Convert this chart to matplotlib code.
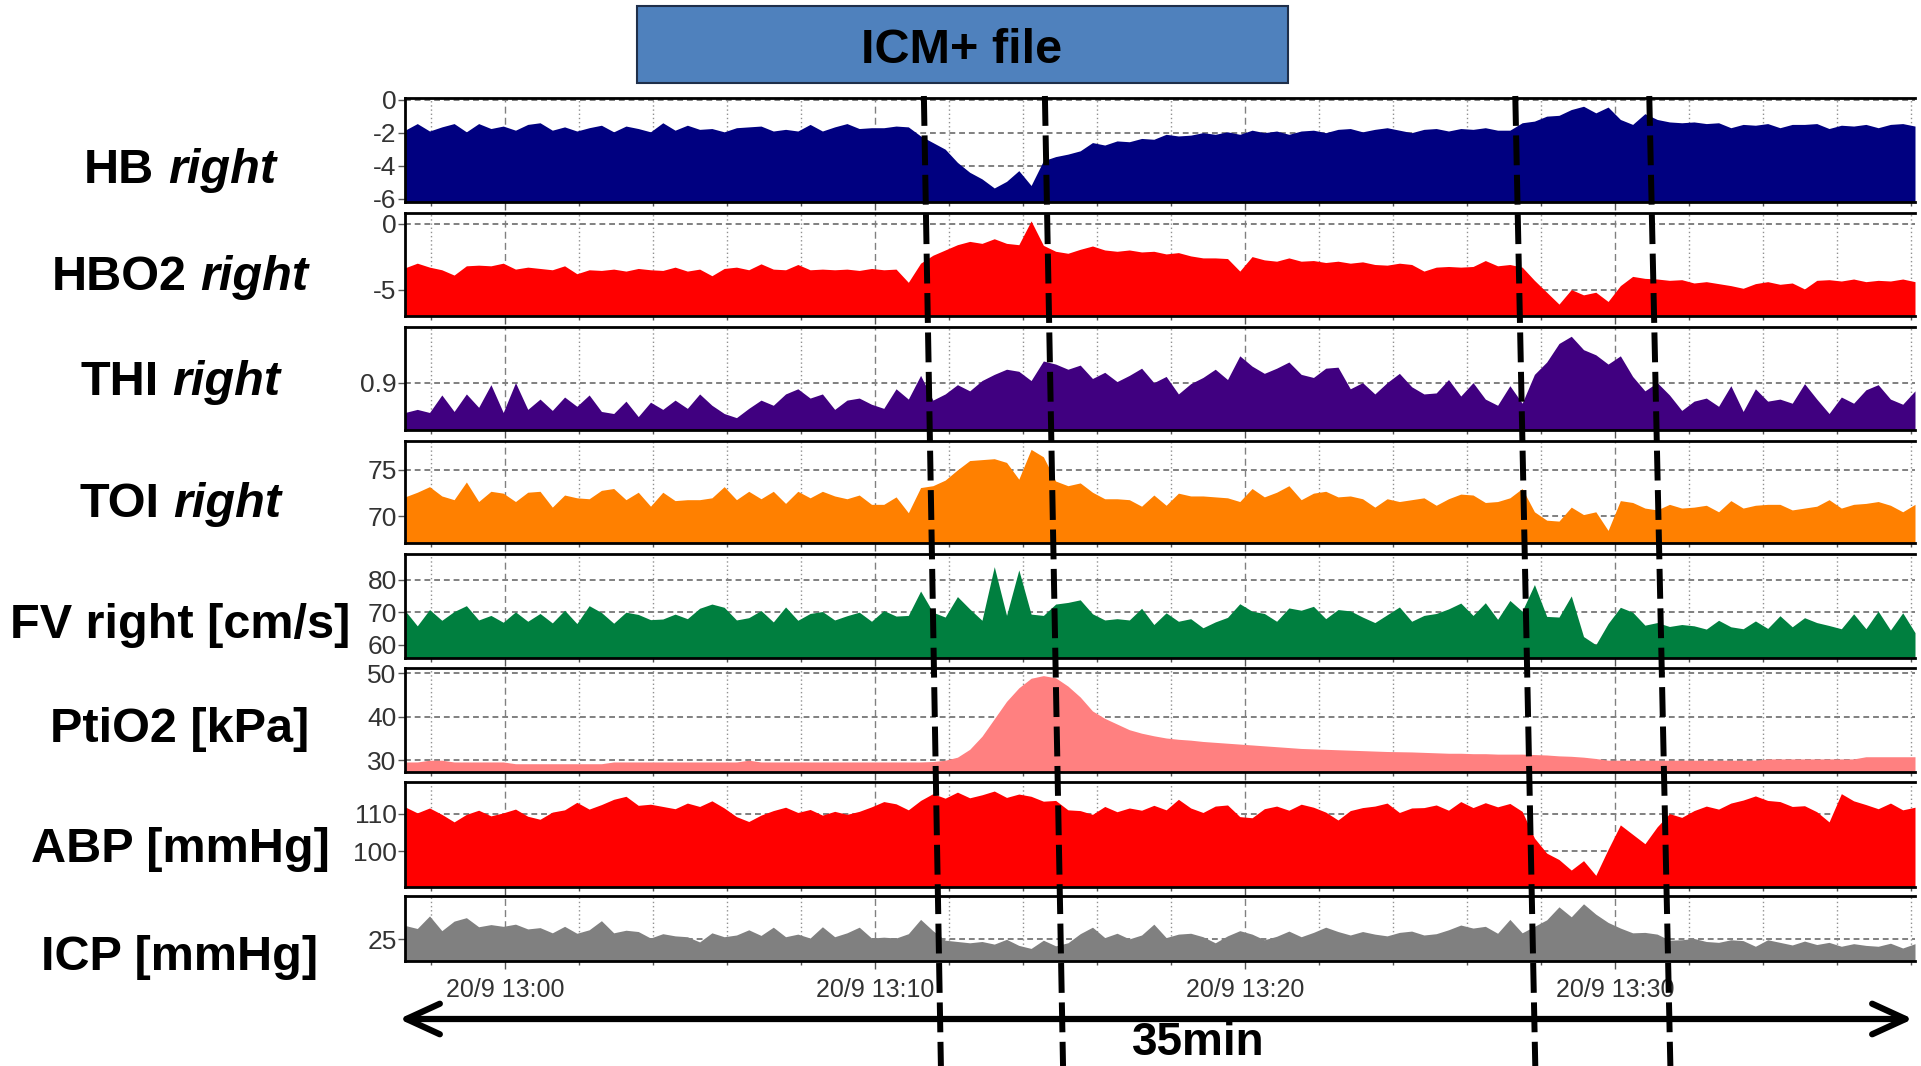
import numpy as np
import matplotlib
matplotlib.use("Agg")
import matplotlib.pyplot as plt
from matplotlib.patches import Rectangle
from matplotlib.ticker import FixedLocator, MultipleLocator

plt.rcParams['font.family'] = ['Liberation Sans', 'DejaVu Sans']

W, H, DPI = 1921, 1066, 100

hb = [-1.85, -1.45, -1.9, -1.65, -1.45, -1.95, -1.45, -1.75, -1.6, -1.85,
      -1.5, -1.4, -1.85, -1.65, -1.9, -1.7, -1.55, -1.95, -1.6, -1.75,
      -1.95, -1.4, -1.85, -1.55, -1.8, -1.75, -1.95, -1.7, -1.65, -1.6,
      -1.9, -1.8, -1.9, -1.5, -1.9, -1.65, -1.45, -1.75, -1.7, -1.7,
      -1.6, -1.65, -2.2, -2.6, -3.0, -3.8, -4.4, -4.8, -5.35, -4.95,
      -4.3, -5.2, -3.7, -3.45, -3.3, -3.1, -2.6, -2.75, -2.5, -2.55,
      -2.35, -2.4, -2.1, -2.2, -2.15, -2.0, -2.1, -1.95, -2.1, -1.85,
      -2.0, -1.9, -2.1, -1.9, -1.85, -2.0, -1.8, -1.75, -1.95, -1.8,
      -1.7, -1.85, -2.0, -1.8, -1.75, -1.9, -1.75, -1.8, -1.7, -1.85,
      -1.85, -1.4, -1.3, -1.0, -0.95, -0.6, -0.4, -0.8, -0.45, -1.2,
      -1.5, -0.85, -1.2, -1.35, -1.4, -1.35, -1.45, -1.4, -1.7, -1.5,
      -1.55, -1.45, -1.7, -1.5, -1.5, -1.45, -1.75, -1.55, -1.6, -1.5,
      -1.7, -1.5, -1.45, -1.6]

hbo2 = [-3.35, -3.0, -3.3, -3.5, -3.9, -3.2, -3.15, -3.2, -3.0, -3.45,
        -3.3, -3.4, -3.5, -3.2, -3.8, -3.5, -3.55, -3.45, -3.6, -3.4,
        -3.5, -3.55, -3.3, -3.6, -3.45, -3.95, -3.4, -3.3, -3.5, -3.05,
        -3.45, -3.5, -3.1, -3.5, -3.45, -3.5, -3.45, -3.55, -3.4, -3.5,
        -3.45, -4.45, -3.0, -2.4, -2.0, -1.6, -1.35, -1.5, -1.15, -1.5,
        -1.6, 0.2, -1.65, -2.1, -2.25, -1.95, -1.7, -2.0, -2.1, -2.0,
        -2.15, -2.1, -2.3, -2.2, -2.45, -2.6, -2.6, -2.65, -3.6, -2.5,
        -2.75, -2.85, -2.6, -2.85, -2.8, -2.95, -2.85, -3.0, -2.9, -3.1,
        -3.15, -3.0, -3.1, -3.6, -3.3, -3.25, -3.3, -3.25, -2.8, -3.2,
        -3.1, -3.3, -4.3, -5.2, -6.1, -5.0, -5.4, -5.2, -5.9, -4.7,
        -4.0, -4.15, -4.2, -4.3, -4.25, -4.5, -4.4, -4.55, -4.7, -4.9,
        -4.55, -4.4, -4.6, -4.5, -4.95, -4.3, -4.25, -4.35, -4.2, -4.4,
        -4.3, -4.35, -4.2, -4.4]

thi = [0.871, 0.874, 0.871, 0.888, 0.872, 0.889, 0.876, 0.898, 0.871, 0.900,
       0.874, 0.884, 0.873, 0.886, 0.877, 0.888, 0.872, 0.870, 0.882, 0.867,
       0.881, 0.874, 0.883, 0.875, 0.889, 0.878, 0.870, 0.866, 0.875, 0.883,
       0.878, 0.889, 0.894, 0.885, 0.889, 0.874, 0.883, 0.885, 0.879, 0.875,
       0.894, 0.884, 0.907, 0.883, 0.889, 0.898, 0.892, 0.902, 0.908, 0.913,
       0.911, 0.902, 0.921, 0.918, 0.913, 0.917, 0.904, 0.910, 0.901, 0.907,
       0.914, 0.900, 0.906, 0.889, 0.899, 0.905, 0.913, 0.903, 0.926, 0.916,
       0.909, 0.914, 0.920, 0.908, 0.905, 0.914, 0.915, 0.894, 0.900, 0.889,
       0.900, 0.909, 0.896, 0.889, 0.890, 0.903, 0.887, 0.900, 0.884, 0.878,
       0.897, 0.880, 0.908, 0.920, 0.938, 0.945, 0.932, 0.927, 0.918, 0.926,
       0.906, 0.892, 0.900, 0.888, 0.873, 0.882, 0.885, 0.877, 0.897, 0.872,
       0.894, 0.882, 0.884, 0.880, 0.899, 0.884, 0.870, 0.886, 0.880, 0.893,
       0.898, 0.884, 0.879, 0.892]

toi = [72.1, 72.6, 73.2, 72.2, 71.8, 73.7, 71.6, 72.7, 72.5, 71.6,
       72.6, 72.7, 71.0, 72.3, 72.0, 71.9, 72.8, 73.0, 71.8, 72.6,
       71.1, 72.6, 71.7, 71.8, 71.8, 72.0, 73.2, 71.8, 72.7, 71.9,
       72.7, 71.4, 72.7, 72.0, 72.7, 72.2, 71.9, 72.3, 71.3, 71.3,
       72.1, 70.4, 73.1, 73.3, 73.9, 75.0, 76.0, 76.1, 76.2, 75.8,
       74.0, 77.2, 76.4, 73.8, 73.3, 73.6, 72.6, 71.9, 71.9, 71.8,
       71.1, 72.3, 71.2, 72.5, 72.2, 72.2, 72.1, 72.0, 71.6, 73.0,
       72.1, 72.6, 73.3, 71.8, 72.5, 72.7, 72.1, 72.2, 71.9, 71.0,
       71.9, 71.6, 71.8, 72.0, 71.2, 71.9, 72.4, 72.3, 71.5, 71.6,
       72.0, 73.0, 70.5, 69.6, 69.5, 71.0, 70.2, 70.5, 68.5, 71.7,
       71.5, 70.9, 70.7, 71.3, 70.9, 71.0, 71.2, 70.5, 71.7, 70.9,
       71.2, 71.3, 71.3, 70.7, 70.9, 71.1, 71.8, 70.9, 71.3, 71.4,
       71.6, 71.2, 70.5, 71.3]

fv = [70.5, 65.8, 70.8, 67.5, 70.2, 72.0, 67.6, 69.0, 66.9, 70.1,
      67.2, 69.6, 66.7, 70.6, 66.5, 72.0, 69.9, 66.6, 70.0, 69.3,
      67.7, 67.9, 69.4, 68.0, 71.2, 72.5, 71.5, 67.6, 68.3, 70.5,
      67.0, 71.6, 67.5, 69.6, 70.2, 67.6, 68.9, 70.0, 67.2, 70.5,
      68.8, 69.0, 76.5, 70.0, 68.5, 74.8, 71.0, 67.5, 84.0, 69.0,
      83.0, 69.4, 69.0, 72.5, 73.0, 73.8, 69.5, 67.6, 68.0, 67.6,
      71.2, 66.2, 69.8, 67.2, 68.0, 65.2, 67.0, 68.4, 72.6, 70.3,
      69.6, 67.2, 71.3, 70.6, 71.8, 68.0, 70.8, 70.4, 68.5, 66.8,
      69.2, 71.6, 67.2, 69.0, 69.6, 71.0, 72.8, 69.0, 72.9, 67.8,
      73.6, 70.3, 78.5, 68.7, 68.5, 75.0, 62.5, 60.0, 66.5, 71.5,
      70.0, 66.0, 66.8, 65.6, 66.2, 65.8, 64.8, 67.5, 65.5, 64.9,
      67.3, 65.0, 68.9, 65.5, 68.3, 66.8, 65.9, 64.9, 69.5, 64.9,
      70.3, 64.5, 69.8, 63.7]

ptio2 = [29.6, 29.6, 30.0, 30.0, 29.6, 29.6, 29.6, 29.6, 29.6, 29.2,
         29.2, 29.2, 29.2, 29.2, 29.2, 29.2, 29.2, 29.6, 29.6, 29.6,
         29.6, 29.6, 29.6, 29.6, 29.6, 29.6, 29.6, 29.6, 30.0, 29.6,
         29.6, 29.6, 29.6, 29.6, 29.6, 29.6, 29.6, 29.6, 29.6, 29.6,
         29.6, 29.6, 29.6, 29.7, 30.0, 30.7, 32.5, 35.5, 39.5, 43.5,
         46.6, 48.8, 49.4, 48.9, 47.0, 44.5, 41.3, 39.6, 38.3, 37.0,
         36.2, 35.6, 35.1, 34.8, 34.6, 34.3, 34.1, 33.9, 33.7, 33.5,
         33.3, 33.1, 32.9, 32.7, 32.6, 32.5, 32.4, 32.3, 32.2, 32.1,
         32.0, 31.95, 31.9, 31.8, 31.7, 31.6, 31.6, 31.5, 31.5, 31.4,
         31.4, 31.4, 31.3, 31.2, 31.0, 30.9, 30.7, 30.4, 30.0, 30.0,
         30.0, 30.0, 30.0, 30.0, 30.0, 30.0, 30.0, 30.0, 30.0, 30.0,
         30.0, 30.3, 30.3, 30.3, 30.3, 30.3, 30.3, 30.3, 30.3, 30.8,
         30.8, 30.8, 30.8, 30.8]

abp = [111.8, 110.2, 111.5, 109.8, 107.8, 109.8, 110.9, 109.4, 110.2, 111.2,
       109.3, 108.5, 110.4, 111.0, 113.0, 111.2, 112.4, 113.8, 114.6, 112.2,
       112.5, 111.9, 111.3, 112.8, 111.9, 113.4, 111.5, 109.2, 107.9, 109.6,
       110.8, 111.7, 110.3, 111.1, 109.6, 110.6, 109.8, 110.6, 111.8, 113.2,
       112.6, 111.0, 113.5, 115.3, 114.1, 115.7, 114.2, 115.0, 116.0, 114.3,
       115.2, 114.6, 113.3, 113.5, 111.0, 110.8, 109.8, 111.9, 110.5, 111.5,
       110.9, 112.2, 111.0, 113.8, 111.5, 110.3, 112.0, 112.3, 109.2, 108.9,
       111.3, 112.0, 110.9, 112.5, 111.7, 110.4, 108.3, 110.8, 111.6, 112.0,
       112.8, 110.3, 111.5, 111.6, 112.3, 110.9, 113.2, 111.6, 112.9, 111.8,
       112.7, 110.6, 103.5, 99.5, 97.8, 95.0, 97.5, 93.6, 100.5, 107.0,
       104.5, 102.0, 106.5, 110.0, 109.0, 110.8, 112.0, 111.2, 112.8, 113.6,
       114.7, 113.5, 113.2, 111.9, 112.1, 110.5, 107.8, 115.3, 113.4, 112.4,
       111.3, 112.8, 111.0, 111.7]

icp = [28.2, 27.5, 30.4, 27.0, 29.2, 30.0, 27.9, 28.4, 28.0, 28.5,
       27.4, 27.7, 26.5, 28.0, 26.4, 27.2, 29.3, 26.5, 27.1, 26.8,
       25.3, 26.3, 25.8, 25.6, 24.4, 26.5, 25.6, 26.0, 27.2, 25.9,
       27.8, 25.6, 26.2, 25.3, 27.9, 25.6, 26.5, 27.8, 25.3, 25.5,
       25.3, 26.3, 29.6, 27.0, 24.8, 24.5, 24.2, 24.5, 23.9, 25.0,
       23.6, 22.9, 24.8, 23.5, 24.2, 26.3, 27.8, 25.4, 26.4, 25.1,
       26.0, 28.5, 25.4, 26.2, 26.4, 25.6, 24.2, 25.8, 27.0, 26.2,
       24.9, 25.7, 26.9, 25.6, 26.6, 27.8, 26.8, 26.0, 26.8, 26.2,
       25.8, 26.6, 26.9, 26.0, 26.3, 27.2, 28.3, 27.6, 28.0, 26.4,
       29.6, 26.5, 28.0, 29.5, 32.5, 30.2, 33.2, 30.8, 28.9, 27.6,
       26.5, 26.6, 26.2, 24.8, 24.9, 25.2, 24.5, 24.3, 24.9, 24.7,
       23.4, 24.9, 24.3, 23.7, 24.6, 23.8, 24.3, 23.4, 24.0, 23.6,
       23.4, 24.1, 23.0, 24.0]

# minutes relative to 20/9 13:00
minutes = np.linspace(-2.7, 38.1, len(hb))

time_ticks = [0, 10, 20, 30]
time_labels = ['20/9 13:00', '20/9 13:10', '20/9 13:20', '20/9 13:30']

# manoeuvre markers (hand drawn, slightly slanted): top / bottom in minutes
events_top = [11.32, 14.59, 27.30, 30.92]
events_bottom = [11.78, 15.08, 27.84, 31.49]

panel_labels = [("HB", "right"), ("HBO2", "right"), ("THI", "right"),
                ("TOI", "right"), ("FV right [cm/s]", ""), ("PtiO2 [kPa]", ""),
                ("ABP [mmHg]", ""), ("ICP [mmHg]", "")]

# series, colour, ylim, yticks, panel top/bottom (px), label baseline (px)
panels = [
    (hb, '#000080', (-6.2, 0.1), [0, -2, -4, -6], 98, 202, 183),
    (hbo2, '#ff0000', (-7.0, 0.8), [0, -5], 213, 316, 290),
    (thi, '#400080', (0.854, 0.954), [0.9], 327, 430, 395),
    (toi, '#ff8000', (67.15, 78.1), [75, 70], 441, 543, 517),
    (fv, '#007f3f', (55.9, 87.9), [80, 70, 60], 554, 658, 638),
    (ptio2, '#ff8080', (27.3, 51.15), [50, 40, 30], 668, 772, 742),
    (abp, '#ff0000', (90.5, 118.4), [110, 100], 782, 887, 862),
    (icp, '#808080', (20, 35), [25], 896, 961, 970),
]

LEFT, RIGHT = 405, 1915

fig = plt.figure(figsize=(W / DPI, H / DPI), dpi=DPI)

axes = []
for vals, col, ylim, yt, top, bot, _ in panels:
    assert len(vals) == len(minutes)
    ax = fig.add_axes([LEFT / W, 1 - bot / H, (RIGHT - LEFT) / W, (bot - top) / H])
    ax.fill_between(minutes, vals, ylim[0], color=col, lw=0, zorder=2)
    ax.set_xlim(minutes[0], minutes[-1])
    ax.set_ylim(*ylim)
    ax.set_yticks(yt)
    ax.set_yticklabels([f'{v:g}' for v in yt])
    ax.xaxis.set_major_locator(FixedLocator(time_ticks))
    ax.xaxis.set_minor_locator(MultipleLocator(2))
    ax.set_axisbelow(True)
    ax.grid(which='major', axis='x', color='#808080', ls=(0, (5, 3)), lw=1.0)
    ax.grid(which='minor', axis='x', color='#909090', ls=(0, (1, 2)), lw=1.0)
    ax.grid(which='major', axis='y', color='#808080', ls=(0, (3, 2)), lw=1.4)
    ax.tick_params(axis='y', length=5, width=1, color='#555555',
                   labelsize=19, labelcolor='#333333', pad=1)
    ax.tick_params(axis='x', which='major', length=6, width=1, color='#555555',
                   labelsize=18, labelcolor='#333333', pad=6)
    ax.tick_params(axis='x', which='minor', length=3, width=1, color='#555555')
    ax.tick_params(axis='x', labelbottom=False)
    for s in ('top', 'bottom', 'left'):
        ax.spines[s].set_linewidth(2)
        ax.spines[s].set_color('black')
    ax.spines['right'].set_visible(False)
    axes.append(ax)

axes[-1].tick_params(axis='x', labelbottom=True)
axes[-1].set_xticklabels(time_labels)

# panel names on the left, "right" in italics where the slide had it
fig.canvas.draw()
renderer = fig.canvas.get_renderer()
fs = 35
for (plain, ital), spec in zip(panel_labels, panels):
    yf = 1 - spec[6] / H
    t1 = fig.text(0, yf, plain, fontsize=fs, fontweight='bold', va='baseline')
    parts = [t1]
    if ital:
        parts.append(fig.text(0, yf, ital, fontsize=fs, fontweight='bold',
                              style='italic', va='baseline'))
    widths = [p.get_window_extent(renderer).width for p in parts]
    gap = 0.28 * fs * DPI / 72 if ital else 0
    x0 = 180 - (sum(widths) + gap) / 2
    t1.set_x(x0 / W)
    if ital:
        parts[1].set_x((x0 + widths[0] + gap) / W)

# title box
fig.patches.append(Rectangle((637 / W, 1 - 83 / H), (1288 - 637) / W, (83 - 6) / H,
                             transform=fig.transFigure, facecolor='#4f81bd',
                             edgecolor='#1f2f4a', lw=1.5))
fig.text(962 / W, 1 - 63 / H, 'ICM+ file', fontsize=35, fontweight='bold',
         ha='center', va='baseline')

# 35 min double arrow
fig.add_artist(plt.Annotation('', xy=(1913 / W, 1 - 1019 / H), xytext=(399 / W, 1 - 1019 / H),
                              xycoords='figure fraction', textcoords='figure fraction',
                              arrowprops=dict(arrowstyle='<->,head_length=2.4,head_width=1.1',
                                              lw=4.5, color='black', mutation_scale=10,
                                              shrinkA=0, shrinkB=0)))
fig.text(1198 / W, 1 - 1055 / H, '35min', fontsize=33, fontweight='bold',
         ha='center', va='baseline')

# dashed event markers over all panels
ov = fig.add_axes([LEFT / W, 0, (RIGHT - LEFT) / W, 1 - 96 / H])
ov.set_xlim(minutes[0], minutes[-1])
ov.set_ylim(0, 1)
ov.axis('off')
for t0, t1_ in zip(events_top, events_bottom):
    ov.plot([t0, t1_], [1, 0], color='black', lw=4.3, dashes=(5, 1.6),
            dash_capstyle='butt', clip_on=False)

fig.savefig('out.png', dpi=DPI)
